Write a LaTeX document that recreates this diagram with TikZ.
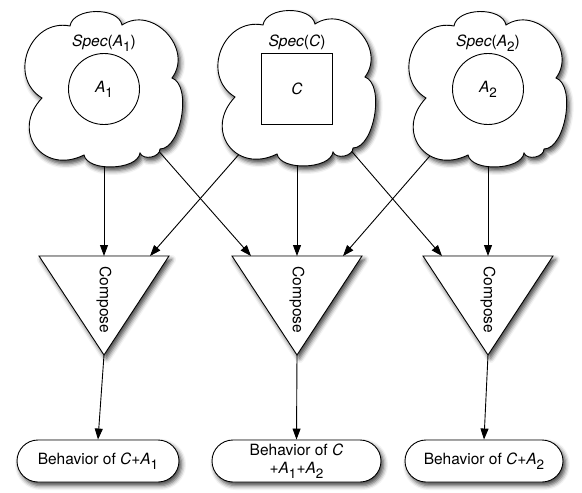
\documentclass[tikz,border=0pt]{standalone}
\usepackage{fontspec}
\setmainfont{TeX Gyre Heros}
\usetikzlibrary{arrows.meta,shapes.misc,shadows.blur,calc}
\pgfdeclarelayer{wires}
\pgfsetlayers{wires,main}
% italic letter and a lowered index, as in C+A_1
\newcommand\itl[1]{\textit{#1}}
\newcommand\lowsub[1]{\raisebox{-0.32em}{\fontsize{13.5}{13.5}\selectfont #1}}

\begin{document}
\begin{tikzpicture}[x=1pt,y=1pt,
  font=\fontsize{15.5}{19}\selectfont,
  outline/.style={draw=black, line width=0.9pt, fill=white},
  shadowed/.style={blur shadow={shadow xshift=2.5pt, shadow yshift=-3.5pt,
      shadow blur radius=4.5pt, shadow opacity=75}},
  link/.style={draw=black, line width=0.9pt, -{Triangle[length=11pt,width=8pt]}},
  lobe/.style={bend left=80, looseness=#1},
  cloudpic/.pic={
    \path[outline, shadowed] (-62,-9) to[lobe=1.35] (-34,63) to[lobe=0.93] (18,64)
      to[lobe=1.28] (68,11) to[lobe=0.76] (56,-60) to[lobe=1.04] (36,-64)
      to[lobe=0.8] (-20,-66) to[lobe=1.66] (-62,-9) -- cycle;
    \coordinate (-c) at (0,0);
  },
  trianglepic/.pic={
    \path[outline, shadowed] (-65,0) -- (65,0) -- (0,-99) -- cycle;
    \coordinate (-l) at (-46,0);
    \coordinate (-m) at (0,0);
    \coordinate (-r) at (46,0);
    \coordinate (-apex) at (0,-99);
  },
  resultbox/.style={outline, shadowed, rounded rectangle, minimum height=42pt,
      inner xsep=4pt, inner ysep=2pt, align=center}
]
\useasboundingbox (0,0) rectangle (582,-493);

% specifications
\pic (cL) at (104,-89) {cloudpic};
\pic (cC) at (297,-88) {cloudpic};
\pic (cR) at (488,-89) {cloudpic};

\node (sL) at (104,-43) {\itl{Spec}(\itl{A}\lowsub{1})};
\node (sC) at (297,-42) {\itl{Spec}(\itl{C})};
\node (sR) at (488,-43) {\itl{Spec}(\itl{A}\lowsub{2})};

\node[circle, draw, line width=0.9pt, minimum size=71pt, inner sep=0pt] (a1) at (104,-89) {\itl{A}\lowsub{1}};
\node[draw, line width=0.9pt, minimum size=71pt, inner sep=0pt] (cc) at (297,-88.5) {\itl{C}};
\node[circle, draw, line width=0.9pt, minimum size=71pt, inner sep=0pt] (a2) at (488,-89) {\itl{A}\lowsub{2}};

% composition operators
\pic (tL) at (104,-256) {trianglepic};
\pic (tC) at (297,-256) {trianglepic};
\pic (tR) at (488,-256) {trianglepic};

\node[rotate=-90] (kL) at (104,-300) {Compose};
\node[rotate=-90] (kC) at (297,-300) {Compose};
\node[rotate=-90] (kR) at (488,-300) {Compose};

% resulting behaviours
\node[resultbox, minimum width=170pt] (bL) at (98,-461) {Behavior of \itl{C}+\itl{A}\lowsub{1}};
\node[resultbox, minimum width=177pt] (bC) at (296.5,-461) {Behavior of \itl{C}\\[-1pt]+\itl{A}\lowsub{1}+\itl{A}\lowsub{2}};
\node[resultbox, minimum width=166pt] (bR) at (484,-461) {Behavior of \itl{C}+\itl{A}\lowsub{2}};

% connectors, kept under the shapes so they start at the cloud outlines
\begin{pgfonlayer}{wires}
\draw[link] (cL-c) -- (tL-m);
\draw[link] (cL-c) -- (tC-l);
\draw[link] (cC-c) -- (tL-r);
\draw[link] (cC-c) -- (tC-m);
\draw[link] (cC-c) -- (tR-l);
\draw[link] (cR-c) -- (tC-r);
\draw[link] (cR-c) -- (tR-m);
\draw[link] (tL-apex) -- (bL.north);
\draw[link] (tC-apex) -- (bC.north);
\draw[link] (tR-apex) -- (bR.north);
\end{pgfonlayer}
\end{tikzpicture}
\end{document}
